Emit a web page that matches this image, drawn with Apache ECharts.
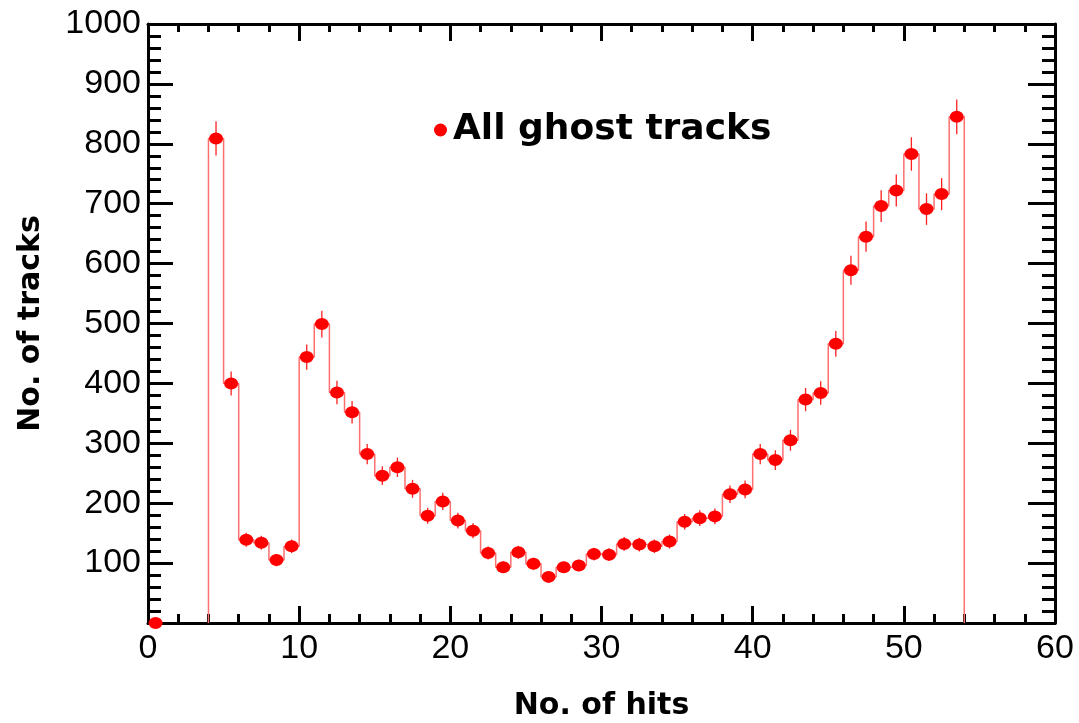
<!DOCTYPE html>
<html>
<head>
<meta charset="utf-8">
<script src="https://cdn.jsdelivr.net/npm/echarts@6/dist/echarts.min.js"></script>
<style>
html,body{margin:0;padding:0;background:#fff;}
#chart{width:1079px;height:723px;}
</style>
</head>
<body>
<div id="chart"></div>
<script>
// ---- data ----
const binCenters = [0.5, 4.5, 5.5, 6.5, 7.5, 8.5, 9.5, 10.5, 11.5, 12.5, 13.5, 14.5, 15.5, 16.5, 17.5, 18.5, 19.5,
  20.5, 21.5, 22.5, 23.5, 24.5, 25.5, 26.5, 27.5, 28.5, 29.5, 30.5, 31.5, 32.5, 33.5, 34.5, 35.5, 36.5, 37.5,
  38.5, 39.5, 40.5, 41.5, 42.5, 43.5, 44.5, 45.5, 46.5, 47.5, 48.5, 49.5, 50.5, 51.5, 52.5, 53.5];
const trackCounts = [0, 809, 400, 139, 134, 105, 128, 444, 499, 385, 352, 282, 246, 260, 224, 179, 203,
  171, 154, 117, 93, 118, 99, 77, 93, 96, 115, 114, 132, 131, 128, 136, 169, 175, 178,
  215, 223, 282, 272, 305, 373, 384, 466, 589, 645, 696, 722, 783, 691, 716, 845];
const seriesName = 'All ghost tracks';
const xTitle = 'No. of hits';
const yTitle = 'No. of tracks';
const binWidth = 1;

// ---- derived structures ----
const points = binCenters.map((x, i) => [x, trackCounts[i]]);
// histogram outline (step) built from the non-empty bins
const stepLine = [];
const filled = points.filter(p => p[1] > 0);
filled.forEach((p, i) => {
  const lo = p[0] - binWidth / 2, hi = p[0] + binWidth / 2;
  if (i === 0) stepLine.push([lo, 0]);
  stepLine.push([lo, p[1]]);
  stepLine.push([hi, p[1]]);
  if (i === filled.length - 1) stepLine.push([hi, 0]);
});
// Poisson error bars
const errData = filled.map(p => [p[0], p[1] - Math.sqrt(p[1]), p[1] + Math.sqrt(p[1])]);

const TITLE_FONT = 'DejaVu Sans';
const TICK_FONT = 'Liberation Sans';
const chart = echarts.init(document.getElementById('chart'), null, {renderer: 'canvas'});

function axisCommon(extra) {
  return Object.assign({
    type: 'value',
    splitLine: {show: false},
    axisLine: {show: true, onZero: false, lineStyle: {color: '#000', width: 3}},
  }, extra);
}

chart.setOption({
  animation: false,
  backgroundColor: '#fff',
  grid: {left: 148, right: 24, top: 24, bottom: 100, containLabel: false, outerBoundsMode: 'none'},
  legend: {
    data: [{name: seriesName, icon: 'circle'}],
    left: 429, top: 107,
    itemWidth: 13, itemHeight: 13, itemGap: 0,
    textStyle: {fontFamily: TITLE_FONT, fontWeight: 'bold', fontSize: 36, color: '#000', padding: [0, 0, 0, 1]}
  },
  xAxis: [
    axisCommon({
      min: 0, max: 60, interval: 10, position: 'bottom',
      name: xTitle, nameLocation: 'middle', nameGap: 68,
      nameTextStyle: {fontFamily: TITLE_FONT, fontWeight: 'bold', fontSize: 30, color: '#000'},
      axisTick: {show: true, inside: true, length: 17, lineStyle: {color: '#000', width: 3}},
      minorTick: {show: true, splitNumber: 5, length: 9, lineStyle: {color: '#000', width: 3}},
      axisLabel: {fontFamily: TICK_FONT, fontSize: 34, color: '#000', margin: 9}
    }),
    axisCommon({
      min: 0, max: 60, interval: 10, position: 'top',
      axisTick: {show: true, inside: true, length: 17, lineStyle: {color: '#000', width: 3}},
      minorTick: {show: true, splitNumber: 5, length: 8, lineStyle: {color: '#000', width: 3}},
      axisLabel: {show: false}
    })
  ],
  yAxis: [
    axisCommon({
      min: 0, max: 1000, interval: 100, position: 'left',
      name: yTitle, nameLocation: 'middle', nameGap: 102,
      nameTextStyle: {fontFamily: TITLE_FONT, fontWeight: 'bold', fontSize: 30, color: '#000'},
      axisTick: {show: true, inside: true, length: 25, lineStyle: {color: '#000', width: 3}},
      minorTick: {show: true, splitNumber: 5, length: 13, lineStyle: {color: '#000', width: 3}},
      axisLabel: {fontFamily: TICK_FONT, fontSize: 34, color: '#000', margin: 7,
        formatter: v => (v === 0 ? '' : String(v))}
    }),
    axisCommon({
      min: 0, max: 1000, interval: 100, position: 'right',
      axisTick: {show: true, inside: true, length: 27, lineStyle: {color: '#000', width: 3}},
      minorTick: {show: true, splitNumber: 5, length: 13, lineStyle: {color: '#000', width: 3}},
      axisLabel: {show: false}
    })
  ],
  series: [
    {
      name: 'outline', type: 'line', data: stepLine, showSymbol: false, symbol: 'none',
      xAxisIndex: 0, yAxisIndex: 0,
      lineStyle: {color: '#ff6f6f', width: 1.5}, z: 2, silent: true
    },
    {
      name: 'errors', type: 'custom', xAxisIndex: 0, yAxisIndex: 0, z: 3, silent: true,
      data: errData,
      renderItem: function (params, api) {
        const a = api.coord([api.value(0), api.value(1)]);
        const b = api.coord([api.value(0), api.value(2)]);
        return {type: 'line', shape: {x1: a[0], y1: a[1], x2: b[0], y2: b[1]},
          style: {stroke: '#ff2020', lineWidth: 1.3}};
      }
    },
    {
      name: seriesName, type: 'scatter', data: points, xAxisIndex: 0, yAxisIndex: 0,
      symbol: 'circle', symbolSize: [14, 12],
      itemStyle: {color: '#ff0000', opacity: 1}, z: 4
    }
  ]
});
</script>
</body>
</html>
